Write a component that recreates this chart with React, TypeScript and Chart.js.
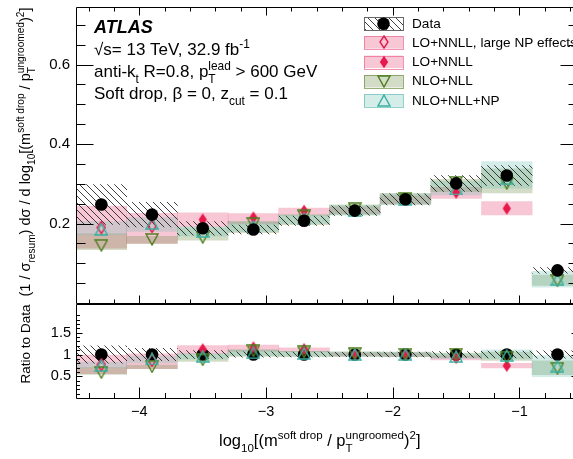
import React, { useEffect, useRef } from 'react';
import { Chart, registerables } from 'chart.js';

Chart.register(...registerables);

const FONT = '"Liberation Sans", Arial, Helvetica, sans-serif';

// ---------------- data ----------------
const binCenters = [-4.3, -3.9, -3.5, -3.1, -2.7, -2.3, -1.9, -1.5, -1.1, -0.7];

const dataValues = [0.248, 0.2225, 0.188, 0.185, 0.207, 0.2325, 0.261, 0.301, 0.321, 0.082];
const dataErrors = [0.05, 0.031, 0.017, 0.011, 0.012, 0.012, 0.014, 0.02, 0.025, 0.007];

const loNnllNpValues = [0.19, 0.193, null, null, null, null, null, null, null, null];
const loNnllNpLow = [0.138, 0.15, null, null, null, null, null, null, null, null];
const loNnllNpHigh = [0.244, 0.226, null, null, null, null, null, null, null, null];

const loNnllValues = [null, null, 0.21, 0.215, 0.232, 0.234, 0.26, 0.278, 0.238, null];
const loNnllLow = [null, null, 0.192, 0.199, 0.221, 0.225, 0.25, 0.263, 0.222, null];
const loNnllHigh = [null, null, 0.227, 0.225, 0.239, 0.242, 0.27, 0.291, 0.255, null];

const nloNllValues = [0.145, 0.16, 0.165, 0.2, 0.219, 0.237, 0.262, 0.304, 0.301, 0.056];
const nloNllLow = [0.134, 0.15, 0.158, 0.177, 0.197, 0.222, 0.248, 0.28, 0.277, 0.044];
const nloNllHigh = [0.174, 0.168, 0.19, 0.205, 0.222, 0.247, 0.276, 0.311, 0.338, 0.07];

const nloNllNpValues = [0.185, 0.2, 0.18, 0.192, 0.212, 0.232, 0.26, 0.287, 0.313, 0.06];
const nloNllNpLow = [0.172, 0.18, 0.168, 0.18, 0.2, 0.222, 0.248, 0.272, 0.289, 0.04];
const nloNllNpHigh = [0.205, 0.215, 0.192, 0.204, 0.222, 0.245, 0.274, 0.306, 0.356, 0.08];

const xMajorTicks = [-4, -3, -2, -1];
const mainYTicks = [0.2, 0.4, 0.6];
const ratioYTicks = [0.5, 1, 1.5];

const legendLabels = ['Data', 'LO+NNLL, large NP effects', 'LO+NNLL', 'NLO+NLL', 'NLO+NLL+NP'];

// ---------------- styles ----------------
const PINK = '#e6194b';
const GREEN = '#4d7f1e';
const TEAL = '#39b0a2';
const PINK_BAND = 'rgba(236,100,140,0.36)';
const OLIVE_BAND = 'rgba(110,140,70,0.30)';
const TEAL_BAND = 'rgba(100,190,175,0.28)';

type Seg = { t?: string; k?: 'sub' | 'sup'; sub?: string; sup?: string };

function richText(ctx: CanvasRenderingContext2D, segs: Seg[], x: number, y: number, size: number, draw = true, weight = '') {
  let cx = x;
  const small = size * 0.7;
  for (const s of segs) {
    if (s.sub !== undefined || s.sup !== undefined) {
      ctx.font = `${small}px ${FONT}`;
      const w1 = s.sub ? ctx.measureText(s.sub).width : 0;
      const w2 = s.sup ? ctx.measureText(s.sup).width : 0;
      if (draw) {
        if (s.sub) ctx.fillText(s.sub, cx, y + size * 0.35);
        if (s.sup) ctx.fillText(s.sup, cx, y - size * 0.42);
      }
      cx += Math.max(w1, w2);
    } else if (s.k) {
      ctx.font = `${small}px ${FONT}`;
      const w = ctx.measureText(s.t!).width;
      if (draw) ctx.fillText(s.t!, cx, y + (s.k === 'sub' ? size * 0.35 : -size * 0.42));
      cx += w;
    } else {
      ctx.font = `${weight}${size}px ${FONT}`;
      const w = ctx.measureText(s.t!).width;
      if (draw) ctx.fillText(s.t!, cx, y);
      cx += w;
    }
  }
  return cx - x;
}

function makeMarker(kind: string, color: string, w: number, h: number, lw: number, filled: boolean) {
  const c = document.createElement('canvas');
  c.width = w;
  c.height = h;
  const g = c.getContext('2d')!;
  g.strokeStyle = color;
  g.fillStyle = color;
  g.lineWidth = lw;
  const p = lw / 2 + 0.3;
  g.beginPath();
  if (kind === 'diamond') {
    g.moveTo(w / 2, p); g.lineTo(w - p, h / 2); g.lineTo(w / 2, h - p); g.lineTo(p, h / 2);
  } else if (kind === 'up') {
    g.moveTo(w / 2, p); g.lineTo(w - p, h - p); g.lineTo(p, h - p);
  } else {
    g.moveTo(p, p); g.lineTo(w - p, p); g.lineTo(w / 2, h - p);
  }
  g.closePath();
  if (filled) g.fill(); else g.stroke();
  return c;
}

function makeHatch(ctx: CanvasRenderingContext2D) {
  const s = 7;
  const c = document.createElement('canvas');
  c.width = s;
  c.height = s;
  const g = c.getContext('2d')!;
  g.strokeStyle = 'rgba(30,30,30,0.85)';
  g.lineWidth = 1;
  g.beginPath();
  g.moveTo(-1, -1); g.lineTo(s + 1, s + 1);
  g.moveTo(-1, s - 1); g.lineTo(1, s + 1);
  g.moveTo(s - 1, -1); g.lineTo(s + 1, 1);
  g.stroke();
  return ctx.createPattern(c, 'repeat')!;
}

function makeMarkers() {
  return {
    openDiamond: makeMarker('diamond', PINK, 10, 14, 1.4, false),
    fullDiamond: makeMarker('diamond', PINK, 10, 14, 1, true),
    down: makeMarker('down', GREEN, 14, 13, 1.4, false),
    up: makeMarker('up', TEAL, 14, 13, 1.4, false),
  };
}

function buildDatasets(mode: 'main' | 'ratio', hatch: CanvasPattern, mk: any) {
  const norm = (v: number, i: number) => (mode === 'ratio' ? v / dataValues[i] : v);
  const band = (lo: (number | null)[], hi: (number | null)[], color: any, order: number) => ({
    type: 'bar',
    data: binCenters
      .map((c, i) => (lo[i] == null ? null : { x: c, y: [norm(lo[i] as number, i), norm(hi[i] as number, i)] }))
      .filter(Boolean),
    backgroundColor: color,
    borderWidth: 0,
    grouped: false,
    categoryPercentage: 1,
    barPercentage: 1,
    order,
  });
  const pts = (vals: (number | null)[], style: any, order: number, extra: any = {}) => ({
    type: 'scatter',
    data: binCenters
      .map((c, i) => (vals[i] == null ? null : { x: c, y: norm(vals[i] as number, i) }))
      .filter(Boolean),
    pointStyle: style,
    pointRadius: 6,
    order,
    ...extra,
  });
  const dataLo = dataValues.map((v, i) => v - dataErrors[i]);
  const dataHi = dataValues.map((v, i) => v + dataErrors[i]);
  const dotOrder = mode === 'main' ? 0 : 4;
  const mOff = mode === 'main' ? 1 : 0;
  return [
    pts(dataValues, 'circle', dotOrder, { backgroundColor: '#000', borderColor: '#000', borderWidth: 0, pointRadius: 6.3 }),
    pts(nloNllNpValues, mk.up, mOff + 0),
    pts(nloNllValues, mk.down, mOff + 1),
    pts(loNnllValues, mk.fullDiamond, mOff + 2),
    pts(loNnllNpValues, mk.openDiamond, mOff + 3),
    band(dataLo, dataHi, hatch, 5),
    band(nloNllNpLow, nloNllNpHigh, TEAL_BAND, 6),
    band(nloNllLow, nloNllHigh, OLIVE_BAND, 7),
    band(loNnllLow, loNnllHigh, PINK_BAND, 8),
    band(loNnllNpLow, loNnllNpHigh, PINK_BAND, 9),
  ];
}

const Y_TITLE: Seg[] = [
  { t: '(1 / σ' }, { k: 'sub', t: 'resum' }, { t: ') dσ / d log' }, { k: 'sub', t: '10' },
  { t: '[(m' }, { k: 'sup', t: 'soft drop' }, { t: ' / p' }, { sub: 'T', sup: 'ungroomed' },
  { t: ')' }, { k: 'sup', t: '2' }, { t: ']' },
];
const X_TITLE: Seg[] = [
  { t: 'log' }, { k: 'sub', t: '10' }, { t: '[(m' }, { k: 'sup', t: 'soft drop' }, { t: ' / p' },
  { sub: 'T', sup: 'ungroomed' }, { t: ')' }, { k: 'sup', t: '2' }, { t: ']' },
];

const CANVAS_W = 590;
const MAIN_H = 310;
const RATIO_TOP = 304;
const RATIO_H = 155;
const RIGHT_PAD = CANVAS_W - 576.5;

export default function App() {
  const mainRef = useRef<HTMLCanvasElement>(null);
  const ratioRef = useRef<HTMLCanvasElement>(null);

  useEffect(() => {
    const mctx = mainRef.current!.getContext('2d')!;
    const rctx = ratioRef.current!.getContext('2d')!;
    const mk = makeMarkers();
    const hatchM = makeHatch(mctx);
    const hatchR = makeHatch(rctx);

    const line = (ctx: CanvasRenderingContext2D, x1: number, y1: number, x2: number, y2: number) => {
      ctx.beginPath();
      ctx.moveTo(x1, y1);
      ctx.lineTo(x2, y2);
      ctx.stroke();
    };
    const crisp = (v: number) => Math.round(v) + 0.5;

    const mainPlugin = {
      id: 'mainDeco',
      afterDraw(chart: any) {
        const ctx: CanvasRenderingContext2D = chart.ctx;
        const a = chart.chartArea;
        const xs = chart.scales.x;
        const ys = chart.scales.y;
        ctx.save();
        ctx.strokeStyle = '#000';
        ctx.lineWidth = 1;
        const L = crisp(a.left), R = crisp(a.right), T = crisp(a.top), B = crisp(a.bottom);
        line(ctx, L, T, R, T);
        line(ctx, L, T, L, B);
        line(ctx, L, B, R, B);
        line(ctx, R, T, R, B);
        for (let i = -22; i <= -3; i++) {
          const px = crisp(xs.getPixelForValue(i / 5));
          const len = i % 5 === 0 ? 8 : 4;
          line(ctx, px, T, px, T + len);
          line(ctx, px, B, px, B - len);
        }
        for (let j = 1; j <= 14; j++) {
          const py = crisp(ys.getPixelForValue(j * 0.05));
          const len = j % 4 === 0 ? 17 : 9;
          line(ctx, L, py, L + len, py);
          line(ctx, R, py, R - len, py);
        }
        // texts
        ctx.fillStyle = '#000';
        ctx.textAlign = 'left';
        ctx.textBaseline = 'alphabetic';
        ctx.font = `italic bold 18px ${FONT}`;
        ctx.fillText('ATLAS', 94, 33);
        richText(ctx, [{ t: '√s= 13 TeV, 32.9 fb' }, { k: 'sup', t: '-1' }], 94, 55, 17);
        richText(ctx, [{ t: 'anti-k' }, { k: 'sub', t: 't' }, { t: ' R=0.8, p' }, { sub: 'T', sup: 'lead' }, { t: ' > 600 GeV' }], 94, 77, 17);
        richText(ctx, [{ t: 'Soft drop, β = 0, z' }, { k: 'sub', t: 'cut' }, { t: ' = 0.1' }], 94, 99, 17);

        // legend
        const bx = 364, bw = 39, bh = 12.5;
        const rows = [23.7, 42.4, 61.8, 81.2, 100.6];
        const fills: any[] = [hatchM, PINK_BAND, PINK_BAND, OLIVE_BAND, TEAL_BAND];
        const borders = ['#666', 'rgba(236,100,140,0.7)', 'rgba(236,100,140,0.7)', 'rgba(110,140,70,0.7)', 'rgba(100,190,175,0.7)'];
        const imgs: any[] = [null, mk.openDiamond, mk.fullDiamond, mk.down, mk.up];
        rows.forEach((cy, k) => {
          ctx.fillStyle = fills[k];
          ctx.fillRect(bx, cy - bh / 2, bw, bh);
          ctx.strokeStyle = borders[k];
          ctx.lineWidth = 1;
          ctx.strokeRect(bx + 0.5, Math.round(cy - bh / 2) + 0.5, bw, Math.round(bh));
          const mx = bx + bw / 2;
          if (k === 0) {
            ctx.fillStyle = '#000';
            ctx.beginPath();
            ctx.arc(mx, cy, 6.3, 0, Math.PI * 2);
            ctx.fill();
          } else {
            const im = imgs[k];
            ctx.drawImage(im, Math.round(mx - im.width / 2), Math.round(cy - im.height / 2));
          }
          ctx.fillStyle = '#000';
          ctx.font = `13.6px ${FONT}`;
          ctx.textBaseline = 'middle';
          ctx.fillText(legendLabels[k], 412, cy + 0.5);
          ctx.textBaseline = 'alphabetic';
        });

        // y title
        ctx.save();
        ctx.translate(30, 0);
        ctx.rotate(-Math.PI / 2);
        ctx.fillStyle = '#000';
        const size = 14.5;
        const w = richText(ctx, Y_TITLE, 0, 0, size, false);
        richText(ctx, Y_TITLE, -152 - w / 2, 0, size, true);
        ctx.restore();
        ctx.restore();
      },
    };

    const ratioPlugin = {
      id: 'ratioDeco',
      afterDraw(chart: any) {
        const ctx: CanvasRenderingContext2D = chart.ctx;
        const a = chart.chartArea;
        const xs = chart.scales.x;
        const ys = chart.scales.y;
        ctx.save();
        ctx.strokeStyle = '#000';
        ctx.lineWidth = 1;
        const L = crisp(a.left), R = crisp(a.right), T = 0.5, B = crisp(a.bottom);
        line(ctx, L, T, R, T);
        line(ctx, L, T, L, B);
        line(ctx, L, B, R, B);
        line(ctx, R, T, R, B);
        for (let i = -22; i <= -3; i++) {
          const px = crisp(xs.getPixelForValue(i / 5));
          const len = i % 5 === 0 ? 11 : 5.5;
          line(ctx, px, B, px, B - len);
        }
        for (let j = 1; j <= 19; j++) {
          const py = crisp(ys.getPixelForValue(j * 0.1));
          const len = j % 5 === 0 ? 6 : 3.5;
          line(ctx, L, py, L + len, py);
          line(ctx, R, py, R - len, py);
        }
        ctx.fillStyle = '#000';
        ctx.textAlign = 'left';
        ctx.textBaseline = 'alphabetic';
        richText(ctx, X_TITLE, 219, 446 - RATIO_TOP, 16.5);
        // ratio title
        ctx.save();
        ctx.translate(29.5, 0);
        ctx.rotate(-Math.PI / 2);
        ctx.font = `13.5px ${FONT}`;
        ctx.textAlign = 'center';
        ctx.fillText('Ratio to Data', -(344 - RATIO_TOP), 0);
        ctx.restore();
        ctx.restore();
      },
    };

    const minus = (v: number) => (v < 0 ? '\u2212' + Math.abs(v) : String(v));

    const xCommon = {
      type: 'linear',
      min: -4.5,
      max: -0.55,
      offset: false,
      afterBuildTicks: (s: any) => { s.ticks = xMajorTicks.map((v) => ({ value: v })); },
      grid: { display: false, drawTicks: false },
      border: { display: false },
    };

    const mainChart = new Chart(mctx, {
      type: 'scatter',
      data: { datasets: buildDatasets('main', hatchM, mk) as any },
      plugins: [mainPlugin],
      options: {
        responsive: false,
        animation: false,
        devicePixelRatio: 1,
        events: [],
        layout: { padding: { left: 0, top: 5, right: RIGHT_PAD, bottom: MAIN_H - 304 } },
        plugins: { legend: { display: false }, tooltip: { enabled: false } },
        scales: {
          x: { ...xCommon, display: false } as any,
          y: {
            type: 'linear',
            min: 0,
            max: 0.745,
            afterBuildTicks: (s: any) => { s.ticks = mainYTicks.map((v) => ({ value: v })); },
            afterFit: (s: any) => { s.width = 76; s.paddingTop = 0; s.paddingBottom = 0; },
            grid: { display: false, drawTicks: false },
            border: { display: false },
            ticks: {
              padding: 6,
              color: '#000',
              font: { family: FONT, size: 15 },
              callback: (v: any) => Number(v).toFixed(1),
            },
          } as any,
        },
      },
    });

    const ratioChart = new Chart(rctx, {
      type: 'scatter',
      data: { datasets: buildDatasets('ratio', hatchR, mk) as any },
      plugins: [ratioPlugin],
      options: {
        responsive: false,
        animation: false,
        devicePixelRatio: 1,
        events: [],
        layout: { padding: { left: 0, top: 0, right: RIGHT_PAD, bottom: 0 } },
        plugins: { legend: { display: false }, tooltip: { enabled: false } },
        scales: {
          x: {
            ...xCommon,
            afterFit: (s: any) => { s.height = RATIO_H - (398 - RATIO_TOP); s.paddingLeft = 0; s.paddingRight = 0; },
            ticks: {
              padding: 5,
              color: '#000',
              maxRotation: 0,
              font: { family: FONT, size: 14.5 },
              callback: (v: any) => minus(Number(v)),
            },
          } as any,
          y: {
            type: 'linear',
            min: 0,
            max: 2,
            afterBuildTicks: (s: any) => { s.ticks = ratioYTicks.map((v) => ({ value: v })); },
            afterFit: (s: any) => { s.width = 76; s.paddingTop = 0; s.paddingBottom = 0; },
            grid: { display: false, drawTicks: false },
            border: { display: false },
            ticks: {
              padding: 5,
              color: '#000',
              font: { family: FONT, size: 14.5 },
              callback: (v: any) => String(v),
            },
          } as any,
        },
      },
    });

    return () => {
      mainChart.destroy();
      ratioChart.destroy();
    };
  }, []);

  return (
    <div style={{ position: 'fixed', left: 0, top: 0, width: 573, height: 459, overflow: 'hidden', background: '#fff' }}>
      <canvas ref={mainRef} width={CANVAS_W} height={MAIN_H} style={{ position: 'absolute', left: 0, top: 0 }} />
      <canvas ref={ratioRef} width={CANVAS_W} height={RATIO_H} style={{ position: 'absolute', left: 0, top: RATIO_TOP }} />
    </div>
  );
}
